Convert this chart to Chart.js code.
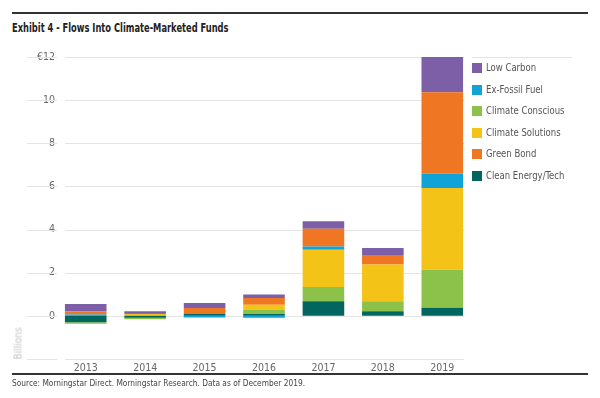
<!DOCTYPE html>
<html>
<head>
<meta charset="utf-8">
<script src="https://cdn.jsdelivr.net/npm/chart.js@4/dist/chart.umd.min.js"></script>
<style>
  body { margin: 0; background: #fff; }
  #wrap { position: relative; width: 600px; height: 398px; overflow: hidden; font-family: "Liberation Sans Narrow", "DejaVu Sans Condensed", sans-serif; }
  #chartBox { position: absolute; left: 0; top: 0; width: 600px; height: 398px; }
  .rule { position: absolute; background: #333; }
  #title { position: absolute; left: 12px; top: 20px; font-size: 12.5px; font-weight: bold; color: #222; transform: scaleX(0.74); transform-origin: left top; white-space: nowrap; }
  #source { position: absolute; left: 12px; top: 378px; font-size: 9px; color: #444; transform: scaleX(0.92); transform-origin: left top; white-space: nowrap; }
  #billions { position: absolute; left: 2px; top: 338px; transform: rotate(-90deg); font-size: 10px; color: #c4c4c4; }
  #legend { position: absolute; left: 472px; top: 61px; }
  .item { height: 21.6px; display: flex; align-items: flex-start; font-size: 11px; color: #555; white-space: nowrap; }
  .box { width: 10px; height: 10px; margin: 2px 4px 0 0; flex: none; }
  .txt { display: inline-block; transform: scaleX(0.86); transform-origin: left top; }
</style>
</head>
<body>
<div id="wrap">
  <div class="rule" style="left:12px; top:12px; width:576px; height:2px;"></div>
  <div id="title">Exhibit 4 - Flows Into Climate-Marketed Funds</div>
  <div id="chartBox"><canvas id="flowsChart"></canvas></div>
  <div class="rule" style="left:472px; top:57px; width:100px; height:1px; background:#e3e3e3;"></div>
  <div id="legend"></div>
  <div id="billions">Billions</div>
  <div class="rule" style="left:12px; top:373px; width:576px; height:1.5px;"></div>
  <div id="source">Source: Morningstar Direct. Morningstar Research. Data as of December 2019.</div>
</div>
<script>
const years = ['2013', '2014', '2015', '2016', '2017', '2018', '2019'];
const yTicks = [-2, 0, 2, 4, 6, 8, 10, 12];

// stacked bottom-up, in euro billions
const cleanEnergy = [-0.30, -0.09, 0.10, 0.09, 0.68, 0.21, 0.38];
const climateConscious = [-0.07, -0.07, 0, 0.20, 0.66, 0.47, 1.76];
const climateSolutions = [0, 0.09, 0, 0.23, 1.73, 1.70, 3.79];
const exFossil = [0.06, 0.04, -0.08, -0.09, 0.15, 0, 0.66];
const greenBond = [0.15, 0, 0.27, 0.31, 0.82, 0.44, 3.78];
const lowCarbon = [0.34, 0.08, 0.23, 0.16, 0.34, 0.33, 1.63];

const series = [
  { label: 'Clean Energy/Tech', data: cleanEnergy, color: '#00665f' },
  { label: 'Climate Conscious', data: climateConscious, color: '#8cc24a' },
  { label: 'Climate Solutions', data: climateSolutions, color: '#f4c317' },
  { label: 'Ex-Fossil Fuel', data: exFossil, color: '#0fa3d8' },
  { label: 'Green Bond', data: greenBond, color: '#ef7622' },
  { label: 'Low Carbon', data: lowCarbon, color: '#7d5fa8' }
];
const legendOrder = ['Low Carbon', 'Ex-Fossil Fuel', 'Climate Conscious', 'Climate Solutions', 'Green Bond', 'Clean Energy/Tech'];

const fontFamily = '"Liberation Sans Narrow", "DejaVu Sans Condensed", sans-serif';

// grid lines split in two pieces: under the tick labels and across the plot
const splitGrid = {
  id: 'splitGrid',
  beforeDatasetsDraw(chart) {
    const ctx = chart.ctx;
    const y = chart.scales.y;
    ctx.save();
    ctx.strokeStyle = '#e4e4e4';
    ctx.lineWidth = 1;
    yTicks.forEach(v => {
      const py = Math.round(y.getPixelForValue(v)) + 0.5;
      ctx.beginPath();
      ctx.moveTo(27, py);
      ctx.lineTo(57, py);
      ctx.moveTo(65, py);
      ctx.lineTo(chart.chartArea.right - 8, py);
      ctx.stroke();
    });
    ctx.restore();
  }
};

const ctx = document.getElementById('flowsChart').getContext('2d');
const flowsChart = new Chart(ctx, {
  type: 'bar',
  data: {
    labels: years,
    datasets: series.map(s => ({
      label: s.label,
      data: s.data,
      backgroundColor: s.color,
      borderWidth: 0,
      barPercentage: 0.7,
      categoryPercentage: 1
    }))
  },
  options: {
    responsive: true,
    maintainAspectRatio: false,
    animation: false,
    layout: { padding: { top: 57, right: 128, bottom: 25, left: 0 } },
    scales: {
      x: {
        stacked: true,
        grid: { display: false, drawTicks: false },
        border: { display: false },
        ticks: { color: '#666', padding: 3, font: { family: fontFamily, size: 10.5 } },
        afterFit: scale => { scale.height = 14; }
      },
      y: {
        stacked: true,
        min: -2,
        max: 12,
        grid: { display: false, drawTicks: false },
        border: { display: false },
        afterBuildTicks: scale => { scale.ticks = yTicks.map(v => ({ value: v })); },
        afterFit: scale => { scale.width = 56; },
        ticks: {
          color: '#666',
          padding: 1,
          font: { family: fontFamily, size: 10.5 },
          callback: v => v === -2 ? '' : (v === 12 ? '€12' : v)
        }
      }
    },
    plugins: {
      legend: { display: false },
      tooltip: { enabled: false }
    }
  },
  plugins: [splitGrid]
});

const legend = document.getElementById('legend');
legendOrder.forEach(name => {
  const s = series.find(item => item.label === name);
  const row = document.createElement('div');
  row.className = 'item';
  row.innerHTML = `<span class="box" style="background:${s.color}"></span><span class="txt">${s.label}</span>`;
  legend.appendChild(row);
});
</script>
</body>
</html>
